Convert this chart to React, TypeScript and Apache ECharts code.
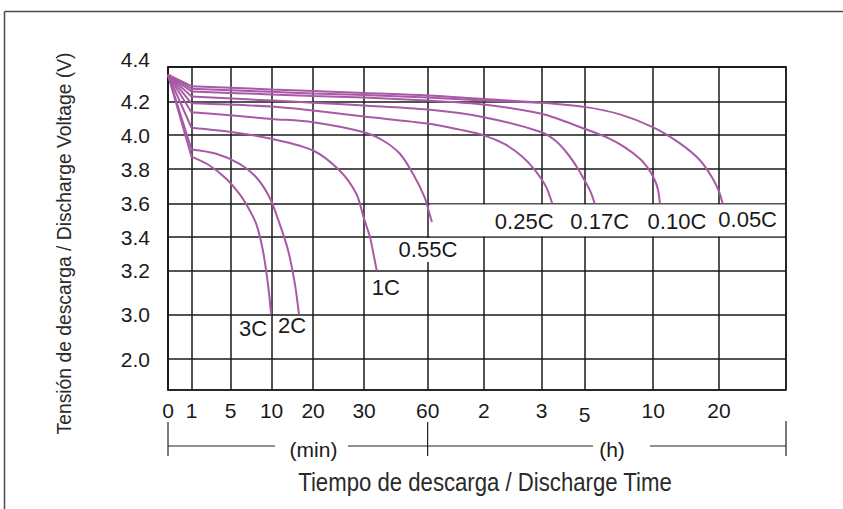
import React, { useEffect, useRef } from 'react';
import * as echarts from 'echarts';

// ---- axis definitions (hand-drawn, non-uniform scales) ----
const X_TICK_MINUTES = [0, 1, 5, 10, 20, 30, 60, 120, 180, 300, 600, 1200, 2400];
const X_TICK_LABELS = ['0', '1', '5', '10', '20', '30', '60', '2', '3', '5', '10', '20', ''];
const X_TICK_POS = [0, 23.5, 62.5, 103.5, 145, 196, 259.5, 315.7, 373.4, 416.4, 485, 550.7, 617.7];

const Y_TICK_VOLTS = [4.4, 4.2, 4.0, 3.8, 3.6, 3.4, 3.2, 3.0, 2.0, 1.3];
const Y_TICK_LABELS = ['4.4', '4.2', '4.0', '3.8', '3.6', '3.4', '3.2', '3.0', '2.0', ''];
const Y_TICK_POS = [0, 34.3, 68.3, 102.3, 136.6, 170.3, 204, 247.6, 292.3, 323.3];

// ---- discharge curves: [minutes, volts] ----
const START: [number, number] = [0, 4.355];
const C3: [number, number][] = [[1, 3.874], [2.85, 3.822], [4.56, 3.744], [6.1, 3.655], [6.9, 3.597], [8.13, 3.479], [8.94, 3.322], [9.55, 3.142], [9.95, 3.0]];
const C2: [number, number][] = [[1, 3.916], [3.53, 3.891], [6.1, 3.832], [8.13, 3.753], [9.76, 3.635], [11.95, 3.479], [13.98, 3.322], [15.6, 3.142], [16.6, 3.0]];
const C1: [number, number][] = [[1, 4.044], [5.28, 4.018], [10, 3.979], [20, 3.91], [25.2, 3.792], [28.5, 3.655], [29.9, 3.518], [32.8, 3.4], [34.7, 3.282], [36, 3.2]];
const C055: [number, number][] = [[1, 4.135], [5.28, 4.116], [10, 4.096], [20, 4.077], [30, 4.018], [38.9, 3.969], [46.9, 3.891], [53.1, 3.773], [58.6, 3.635], [62.1, 3.538], [64.6, 3.49]];
const C025: [number, number][] = [[1, 4.188], [10, 4.169], [20, 4.145], [30, 4.11], [60, 4.069], [94, 4.033], [120, 3.999], [141.8, 3.947], [159.5, 3.876], [174.1, 3.788], [192, 3.7], [209.6, 3.6]];
const C017: [number, number][] = [[1, 4.228], [10, 4.204], [20, 4.192], [30, 4.175], [60, 4.151], [120, 4.106], [180, 4.018], [219, 3.967], [252.6, 3.891], [280.5, 3.806], [300, 3.735], [325.4, 3.671], [344, 3.6]];
const C010: [number, number][] = [[1, 4.257], [10, 4.24], [20, 4.231], [30, 4.222], [60, 4.204], [120, 4.181], [180, 4.126], [300, 4.038], [410.6, 3.979], [476.2, 3.929], [541.8, 3.862], [576.8, 3.806], [606.4, 3.747], [642.9, 3.682], [661.2, 3.6]];
const C005: [number, number][] = [[1, 4.288], [10, 4.269], [20, 4.26], [30, 4.248], [60, 4.234], [120, 4.213], [180, 4.192], [300, 4.167], [454.4, 4.123], [600, 4.046], [843.8, 3.952], [1026.5, 3.853], [1136, 3.753], [1200, 3.671], [1266, 3.6]];
const CX: [number, number][] = [[1, 4.273], [10, 4.255], [20, 4.246], [30, 4.236], [60, 4.222], [120, 4.205], [180, 4.192]];

const CURVE_NAMES = ['3C', '2C', '1C', '0.55C', '0.25C', '0.17C', '0.10C', '0.05C', ''];
const CURVES = [C3, C2, C1, C055, C025, C017, C010, C005, CX];
const LABEL_OFFSETS: [number, number][] = [[-18, 14], [-7, 11], [9, 17], [-4, 28], [-28, 18], [5, 18], [17, 18], [25, 16], [0, 0]];

const PURPLE = '#a85aa5';
const GRID = '#1a1a1a';
const TEXT = '#1a1a1a';
const FONT = '"Liberation Sans", Arial, Helvetica, sans-serif';

function piecewise(v: number, from: number[], to: number[]): number {
  for (let i = 0; i < from.length - 1; i++) {
    const a = from[i], b = from[i + 1];
    if (v >= Math.min(a, b) && v <= Math.max(a, b)) {
      return to[i] + ((v - a) / (b - a)) * (to[i + 1] - to[i]);
    }
  }
  const n = from.length - 1;
  return to[n - 1] + ((v - from[n - 1]) / (from[n] - from[n - 1])) * (to[n] - to[n - 1]);
}
const xPos = (m: number) => piecewise(m, X_TICK_MINUTES, X_TICK_POS);
const yPos = (v: number) => piecewise(v, Y_TICK_VOLTS, Y_TICK_POS);
const toXY = (p: [number, number]) => [xPos(p[0]), yPos(p[1])];

function lookup(v: number, pos: number[], labels: string[]): string {
  for (let i = 0; i < pos.length; i++) if (Math.abs(pos[i] - v) < 1e-3) return labels[i];
  return '';
}

export default function App() {
  const ref = useRef<HTMLDivElement>(null);
  useEffect(() => {
    if (!ref.current) return;
    const chart = echarts.init(ref.current, undefined, { renderer: 'svg' });
    const X_MAX = X_TICK_POS[X_TICK_POS.length - 1];
    const Y_MAX = Y_TICK_POS[Y_TICK_POS.length - 1];
    const lineStyle = { color: PURPLE, width: 2 };
    const series: any[] = [];
    CURVES.forEach((c, i) => {
      series.push({
        type: 'line', silent: true, symbol: 'none', z: 3,
        data: [START, c[0]].map(toXY), lineStyle,
      });
      const name = CURVE_NAMES[i];
      const s: any = {
        type: 'line', silent: true, symbol: 'none', z: 3, smooth: 0.3,
        data: c.map(toXY), lineStyle,
      };
      if (name) {
        s.markPoint = {
          silent: true, symbol: 'circle', symbolSize: 1,
          itemStyle: { color: 'rgba(0,0,0,0)' },
          label: {
            show: true, position: 'inside', formatter: name, offset: LABEL_OFFSETS[i],
            color: TEXT, fontSize: 22, fontFamily: FONT,
            backgroundColor: name === '0.55C' ? '#ffffff' : 'transparent',
            padding: name === '0.55C' ? [1, 2] : 0,
          },
          data: [{ coord: toXY(c[c.length - 1]) }],
        };
      }
      series.push(s);
    });
    // white band behind the low-rate labels
    series.push({
      type: 'line', silent: true, symbol: 'none', z: 1, data: [toXY(START)],
      lineStyle: { width: 0 },
      markArea: {
        silent: true, itemStyle: { color: '#ffffff' },
        data: [[
          { xAxis: xPos(60) + 2.5, yAxis: yPos(3.6) + 1 },
          { xAxis: X_MAX - 1, yAxis: yPos(3.4) - 1 },
        ]],
      },
    });

    const option: any = {
      animation: false,
      backgroundColor: '#ffffff',
      grid: { left: 168, top: 67, width: 618, height: 323, show: true, borderColor: GRID, borderWidth: 1.5 },
      xAxis: {
        type: 'value', min: 0, max: X_MAX,
        axisLine: { show: true, lineStyle: { color: GRID, width: 1.5 } },
        axisTick: { show: false, customValues: X_TICK_POS },
        axisLabel: {
          customValues: X_TICK_POS.slice(0, -1),
          formatter: (v: number) => {
            const l = lookup(v, X_TICK_POS, X_TICK_LABELS);
            const idx = X_TICK_POS.findIndex((p) => Math.abs(p - v) < 1e-3);
            return idx === 9 ? '{low|' + l + '}' : l;
          },
          rich: { low: { padding: [4, 0, 0, 0], fontSize: 21, fontFamily: FONT, color: TEXT } },
          margin: 10, fontSize: 21, color: TEXT, fontFamily: FONT,
        },
        splitLine: { show: true, lineStyle: { color: GRID, width: 1.5 } },
      },
      yAxis: {
        type: 'value', min: 0, max: Y_MAX, inverse: true,
        axisLine: { show: true, lineStyle: { color: GRID, width: 1.5 } },
        axisTick: { show: false, customValues: Y_TICK_POS },
        axisLabel: {
          customValues: Y_TICK_POS.slice(0, -1),
          formatter: (v: number) => {
            const l = lookup(v, Y_TICK_POS, Y_TICK_LABELS);
            return v === 0 ? '{top|' + l + '}' : l;
          },
          rich: { top: { padding: [0, 0, 16, 0], fontSize: 21, fontFamily: FONT, color: TEXT } },
          margin: 18, fontSize: 21, color: TEXT, fontFamily: FONT,
        },
        splitLine: { show: true, lineStyle: { color: GRID, width: 1.5 } },
      },
      series,
    };
    chart.setOption(option);

    const px = (p: number) => chart.convertToPixel({ xAxisIndex: 0 }, p) as number;
    const x0 = px(0), x60 = px(xPos(60)), xEnd = px(X_MAX);
    const yB = 446;
    const brk = { stroke: '#222', lineWidth: 1.2 };
    chart.setOption({
      graphic: [
        { type: 'line', silent: true, shape: { x1: 4.5, y1: 11.5, x2: 843, y2: 11.5 }, style: { stroke: '#4a4a4a', lineWidth: 1.5 } },
        { type: 'line', silent: true, shape: { x1: 4.5, y1: 11.5, x2: 4.5, y2: 509 }, style: { stroke: '#4a4a4a', lineWidth: 1.5 } },
        { type: 'line', silent: true, shape: { x1: x0, y1: 422, x2: x0, y2: 456 }, style: brk },
        { type: 'line', silent: true, shape: { x1: x60, y1: 422, x2: x60, y2: 456 }, style: brk },
        { type: 'line', silent: true, shape: { x1: xEnd, y1: 421, x2: xEnd, y2: 456 }, style: brk },
        { type: 'line', silent: true, shape: { x1: x0, y1: yB, x2: 275, y2: yB }, style: brk },
        { type: 'line', silent: true, shape: { x1: 348, y1: yB, x2: 593, y2: yB }, style: brk },
        { type: 'line', silent: true, shape: { x1: 650, y1: yB, x2: xEnd, y2: yB }, style: brk },
        { type: 'text', silent: true, x: 313.5, y: 449, style: { text: '(min)', fill: TEXT, font: '21px ' + FONT, align: 'center', verticalAlign: 'middle' } },
        { type: 'text', silent: true, x: 612, y: 449, style: { text: '(h)', fill: TEXT, font: '21px ' + FONT, align: 'center', verticalAlign: 'middle' } },
        { type: 'text', silent: true, x: 485, y: 483, scaleX: 0.887, style: { text: 'Tiempo de descarga / Discharge Time', fill: '#2a2a2a', font: '25px ' + FONT, align: 'center', verticalAlign: 'middle' } },
        { type: 'text', silent: true, x: 64, y: 243.5, rotation: Math.PI / 2, scaleX: 0.92, style: { text: 'Tensión de descarga / Discharge Voltage (V)', fill: '#2a2a2a', font: '21px ' + FONT, align: 'center', verticalAlign: 'middle' } },
      ],
    });

    return () => chart.dispose();
  }, []);
  return <div ref={ref} style={{ position: 'absolute', left: 0, top: 0, width: 843, height: 509, background: '#fff' }} />;
}
